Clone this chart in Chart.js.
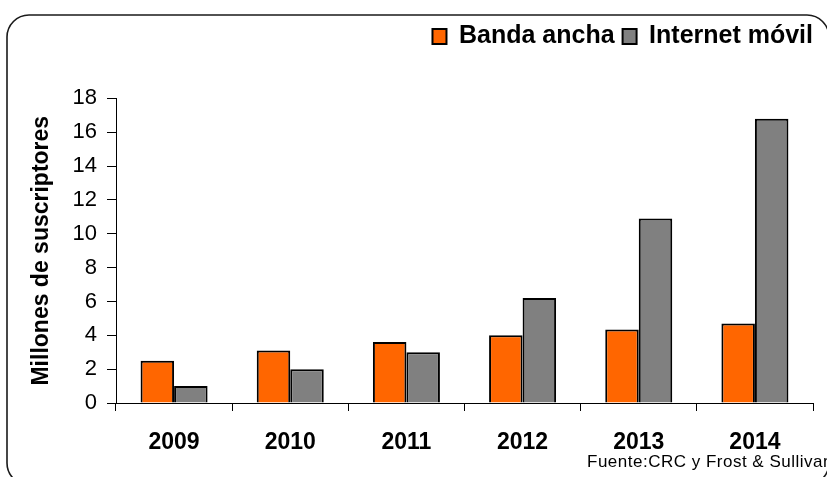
<!DOCTYPE html>
<html>
<head>
<meta charset="utf-8">
<script src="https://cdn.jsdelivr.net/npm/chart.js@4/dist/chart.umd.min.js"></script>
<style>
  html, body { margin: 0; padding: 0; background: #fff; }
  #wrap { width: 827px; height: 477px; position: relative; }
</style>
</head>
<body>
<div id="wrap"><canvas id="grafico"></canvas></div>
<script>
// Suscriptores (millones) por año
const anios = ['2009', '2010', '2011', '2012', '2013', '2014'];
const bandaAncha = [2.5, 3.1, 3.6, 4.0, 4.35, 4.7];
const internetMovil = [1.0, 2.0, 3.0, 6.2, 10.9, 16.8];
const fuente = 'Fuente:CRC y Frost & Sullivan';

const fuenteBase = '"Liberation Sans", Arial, sans-serif';

// Marco redondeado y nota de la fuente
const marcoYFuente = {
    id: 'marcoYFuente',
    afterLayout(chart) {
        // la leyenda va pegada al borde derecho
        chart.legend.left += 8;
        chart.legend.right += 8;
    },
    beforeDraw(chart) {
        const ctx = chart.ctx;
        ctx.save();
        ctx.fillStyle = '#fff';
        ctx.fillRect(0, 0, chart.width, chart.height);
        ctx.strokeStyle = '#1a1a1a';
        ctx.lineWidth = 1.6;
        ctx.beginPath();
        ctx.roundRect(7, 15, 822, 470, 22);
        ctx.stroke();
        ctx.restore();
    },
    afterDraw(chart) {
        const ctx = chart.ctx;
        ctx.save();
        ctx.fillStyle = '#000';
        ctx.font = '17px ' + fuenteBase;
        ctx.letterSpacing = '0.5px';
        ctx.textBaseline = 'alphabetic';
        ctx.fillText(fuente, 587, 467);
        ctx.restore();
    }
};

new Chart(document.getElementById('grafico'), {
    type: 'bar',
    data: {
        labels: anios,
        datasets: [
            {
                label: 'Banda ancha',
                data: bandaAncha,
                backgroundColor: '#FF6600',
                borderColor: '#000',
                borderWidth: 2
            },
            {
                label: 'Internet móvil',
                data: internetMovil,
                backgroundColor: '#808080',
                borderColor: '#000',
                borderWidth: 2
            }
        ]
    },
    options: {
        responsive: true,
        maintainAspectRatio: false,
        animation: false,
        layout: { padding: { top: 16, right: 14, left: 0, bottom: 0 } },
        datasets: {
            bar: { barPercentage: 1, categoryPercentage: 0.577 }
        },
        plugins: {
            tooltip: { enabled: false },
            legend: {
                position: 'top',
                align: 'end',
                labels: {
                    color: '#000',
                    boxWidth: 14,
                    boxHeight: 15,
                    padding: 8,
                    font: { family: fuenteBase, size: 25, weight: 'bold' }
                }
            },
            // espacio vacío entre la leyenda y el área del gráfico
            subtitle: {
                display: true,
                text: '',
                position: 'top',
                weight: 500,
                padding: { top: 0, bottom: 25 }
            }
        },
        scales: {
            x: {
                grid: {
                    offset: true,
                    drawOnChartArea: false,
                    drawTicks: true,
                    tickLength: 8,
                    color: '#000'
                },
                border: { color: '#000', width: 1 },
                ticks: {
                    color: '#000',
                    padding: 18,
                    font: { family: fuenteBase, size: 23, weight: 'bold' }
                },
                afterFit(scale) { scale.height = 74; }
            },
            y: {
                min: 0,
                max: 18,
                grid: {
                    drawOnChartArea: false,
                    drawTicks: true,
                    tickLength: 9,
                    color: '#000'
                },
                border: { color: '#000', width: 1 },
                ticks: {
                    stepSize: 2,
                    color: '#000',
                    padding: 10,
                    font: { family: fuenteBase, size: 22 }
                },
                title: {
                    display: true,
                    text: 'Millones de suscriptores',
                    color: '#000',
                    font: { family: fuenteBase, size: 23, weight: 'bold' },
                    padding: { top: 28, bottom: 0 }
                },
                afterFit(scale) { scale.width = 116; }
            }
        }
    },
    plugins: [marcoYFuente]
});
</script>
</body>
</html>
